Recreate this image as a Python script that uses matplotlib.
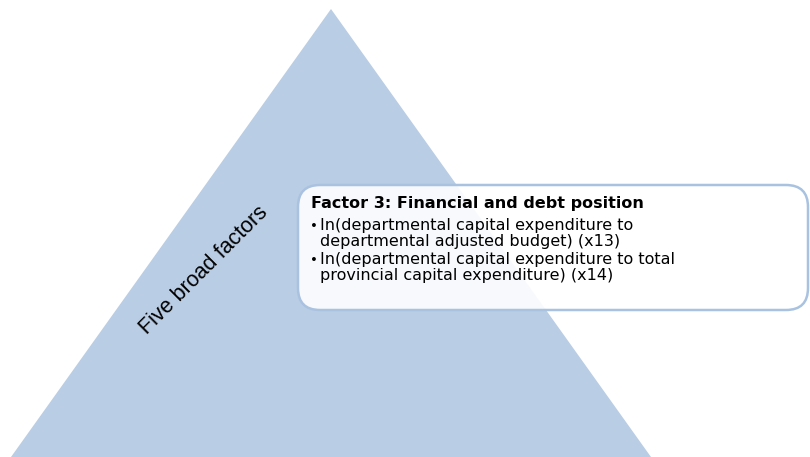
import matplotlib
matplotlib.use("Agg")
import matplotlib.pyplot as plt
from matplotlib.patches import Polygon, FancyBboxPatch

# content
side_label = "Five broad factors"
box_title = "Factor 3: Financial and debt position"
bullets = [
    ["In(departmental capital expenditure to", "departmental adjusted budget) (x13)"],
    ["In(departmental capital expenditure to total", "provincial capital expenditure) (x14)"],
]

# layout (pixel coords, y down)
tri_apex = (331, 9)
tri_base_y = 457
tri_half = 320
box_x0, box_y0, box_x1, box_y1 = 298, 185, 808, 310
title_y = 208
line_y = [[230, 246], [264, 280]]

fill_blue = "#b9cde5"
edge_blue = "#a9c2e0"

fig = plt.figure(figsize=(8.1, 4.57), dpi=100)
ax = fig.add_axes([0, 0, 1, 1])
ax.set_xlim(0, 810)
ax.set_ylim(457, 0)
ax.axis("off")

tri = Polygon([tri_apex,
               (tri_apex[0] - tri_half, tri_base_y),
               (tri_apex[0] + tri_half, tri_base_y)],
              closed=True, facecolor=fill_blue, edgecolor="none")
ax.add_patch(tri)

ax.text(204, 270, side_label, rotation=45, rotation_mode="anchor",
        ha="center", va="center", fontsize=15.5, family="Liberation Sans", color="black")

box = FancyBboxPatch((box_x0, box_y0), box_x1 - box_x0, box_y1 - box_y0,
                     boxstyle="round,pad=0,rounding_size=22",
                     facecolor="white", alpha=0.9, edgecolor="none")
ax.add_patch(box)
box_edge = FancyBboxPatch((box_x0, box_y0), box_x1 - box_x0, box_y1 - box_y0,
                          boxstyle="round,pad=0,rounding_size=22",
                          facecolor="none", edgecolor=edge_blue, linewidth=1.8)
ax.add_patch(box_edge)

fs = 11.5
ax.text(311, title_y, box_title, ha="left", va="baseline", fontsize=fs,
        fontweight="bold", family="DejaVu Sans", color="black")
for lines, ys in zip(bullets, line_y):
    ax.text(310, ys[0], "\u2022", ha="left", va="baseline", fontsize=fs - 2,
            family="DejaVu Sans", color="black")
    for txt, y in zip(lines, ys):
        ax.text(320, y, txt, ha="left", va="baseline", fontsize=fs,
                family="DejaVu Sans", color="black")

fig.savefig("out.png", dpi=100)
